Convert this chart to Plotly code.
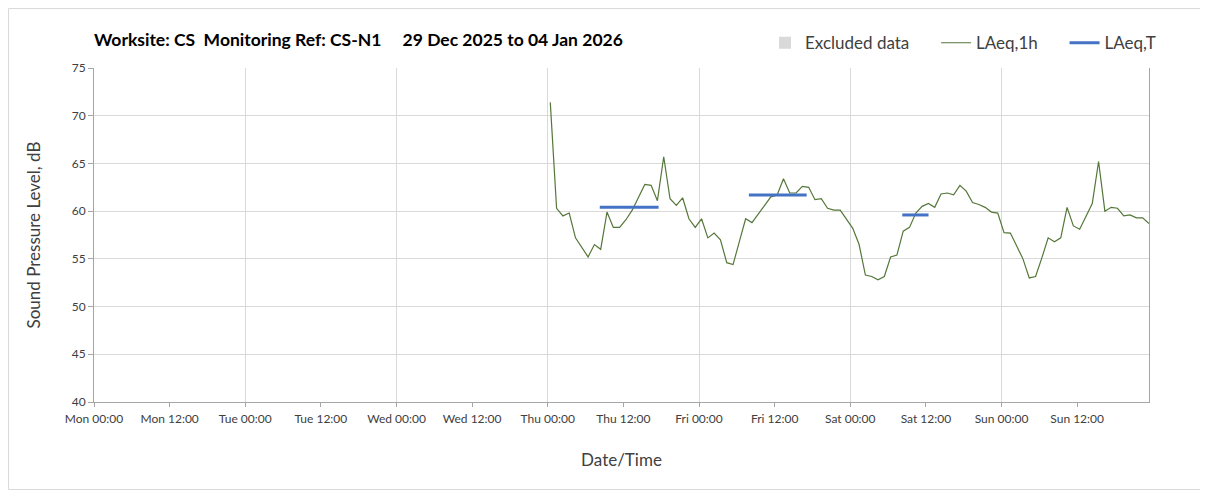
import pandas as pd
import plotly.graph_objects as go

# ---- data ----
start_time = "2026-01-01 00:24"
laeq_1h = [
    # Thu
    71.4, 60.3, 59.5, 59.8, 57.2, 56.2, 55.2, 56.5, 56.0, 59.9, 58.3, 58.3,
    59.1, 60.1, 61.5, 62.8, 62.7, 61.1, 65.7, 61.3, 60.6, 61.4, 59.2, 58.3,
    # Fri
    59.2, 57.2, 57.7, 57.0, 54.6, 54.4, 56.8, 59.2, 58.8, 59.7, 60.6, 61.5,
    61.7, 63.4, 61.9, 61.9, 62.6, 62.5, 61.2, 61.3, 60.3, 60.1, 60.1, 59.1,
    # Sat
    58.2, 56.5, 53.3, 53.15, 52.8, 53.15, 55.2, 55.4, 57.9, 58.3, 59.8, 60.5,
    60.8, 60.4, 61.8, 61.9, 61.7, 62.7, 62.1, 60.9, 60.7, 60.4, 59.9, 59.8,
    # Sun
    57.75, 57.7, 56.3, 55.0, 53.0, 53.15, 55.1, 57.2, 56.8, 57.2, 60.4, 58.45,
    58.1, 59.5, 60.8, 65.2, 60.0, 60.4, 60.3, 59.5, 59.6, 59.3, 59.3, 58.7,
]
times_1h = pd.date_range(start_time, periods=len(laeq_1h), freq="h")

laeq_t_start = ["2026-01-01 08:15", "2026-01-02 07:55", "2026-01-03 08:15"]
laeq_t_end = ["2026-01-01 17:35", "2026-01-02 17:05", "2026-01-03 12:25"]
laeq_t_value = [60.4, 61.7, 59.6]

tick_vals = pd.date_range("2025-12-29 00:00", periods=14, freq="12h")
tick_text = ["Mon 00:00", "Mon 12:00", "Tue 00:00", "Tue 12:00", "Wed 00:00",
             "Wed 12:00", "Thu 00:00", "Thu 12:00", "Fri 00:00", "Fri 12:00",
             "Sat 00:00", "Sat 12:00", "Sun 00:00", "Sun 12:00"]

title_text = ("Worksite: CS\u00a0\u00a0Monitoring Ref: CS-N1"
              "\u00a0\u00a0\u00a0\u00a0\u00a029 Dec 2025 to 04 Jan 2026")

FONT = "Lato"
TXT = "#404040"
GRID = "#d9d9d9"
PAD = "\u00a0" * 5

# build LAeq,T segments
tx, ty = [], []
for s, e, v in zip(laeq_t_start, laeq_t_end, laeq_t_value):
    tx += [s, e, None]
    ty += [v, v, None]

fig = go.Figure()
fig.add_trace(go.Bar(x=[None], y=[None], name="Excluded data" + PAD,
                     marker=dict(color="#d9d9d9", line=dict(width=0))))
fig.add_trace(go.Scatter(x=times_1h, y=laeq_1h, mode="lines", name="LAeq,1h" + PAD,
                         line=dict(color="#55773a", width=1.2)))
fig.add_trace(go.Scatter(x=tx, y=ty, mode="lines", name="LAeq,T" + "\u00a0" * 3,
                         line=dict(color="#4472c4", width=3)))

fig.update_layout(
    width=1200, height=482,
    margin=dict(l=86, r=59, t=60, b=88, autoexpand=False),
    paper_bgcolor="white", plot_bgcolor="white",
    font=dict(family=FONT, color=TXT, size=12),
    showlegend=True,
    legend=dict(orientation="h", xref="container", yref="container",
                x=0.9717, xanchor="right", y=0.927, yanchor="middle",
                font=dict(size=17, color=TXT, family=FONT), itemwidth=30,
                traceorder="normal", bgcolor="rgba(0,0,0,0)"),
    annotations=[dict(text="<b>" + title_text + "</b>", xref="paper", yref="paper",
                      x=-0.002, y=1.084, xanchor="left", yanchor="middle", showarrow=False,
                      font=dict(size=17.5, color="#000000", family=FONT))],
    shapes=[dict(type="rect", xref="paper", yref="paper",
                 x0=-0.081, x1=1.0512, y0=-0.262, y1=1.178,
                 line=dict(color="#d9d9d9", width=1), layer="below")],
)

fig.update_xaxes(
    type="date",
    range=["2025-12-29 00:00", times_1h[-1]],
    tickmode="array", tickvals=tick_vals, ticktext=tick_text,
    ticks="outside", ticklen=4, tickcolor="#a6a6a6",
    showgrid=False,
    minor=dict(tick0="2025-12-29 00:00", dtick=86400000, showgrid=True,
               gridcolor=GRID, gridwidth=1, ticks=""),
    showline=True, linecolor="#a6a6a6", linewidth=1,
    tickfont=dict(size=12, color=TXT), ticklabelstandoff=2,
    title=dict(text="Date/Time", font=dict(size=17, color=TXT), standoff=28),
    zeroline=False,
)
fig.update_yaxes(
    range=[40, 75], dtick=5, tick0=40,
    ticks="outside", ticklen=5, tickcolor="#a6a6a6",
    showgrid=True, gridcolor=GRID, gridwidth=1,
    showline=True, linecolor="#a6a6a6", linewidth=1, mirror=True,
    tickfont=dict(size=12, color=TXT),
    title=dict(text="Sound Pressure Level, dB", font=dict(size=17, color=TXT), standoff=26),
    zeroline=False,
)

fig.write_html("out.html")
